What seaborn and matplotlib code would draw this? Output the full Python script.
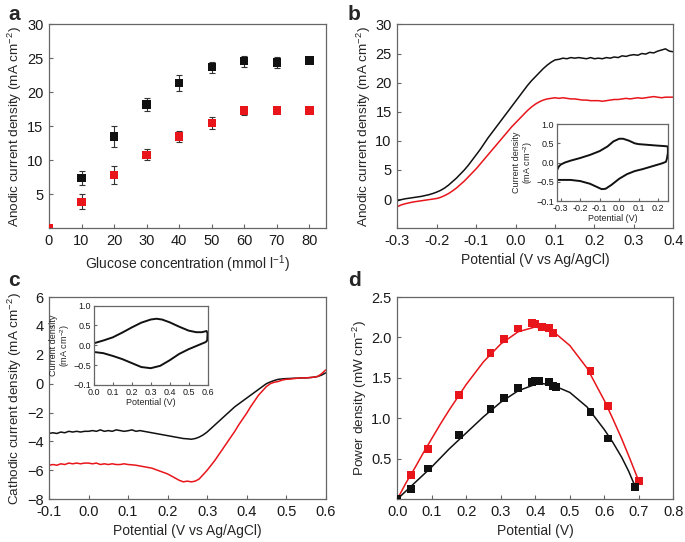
import numpy as np
import pandas as pd
import matplotlib
matplotlib.use('Agg')
import matplotlib.pyplot as plt
from matplotlib.ticker import FixedLocator, FixedFormatter, FormatStrFormatter
import seaborn as sns

# ---- panel a: anodic current vs glucose ----
glucose = [0, 10, 20, 30, 40, 50, 60, 70, 80]
a_black = [0, 7.4, 13.5, 18.2, 21.4, 23.7, 24.6, 24.4, 24.7]
a_black_err = [0, 1.0, 1.5, 1.0, 1.2, 0.8, 0.8, 0.8, 0.3]
a_red = [0, 3.9, 7.8, 10.8, 13.5, 15.5, 17.3, 17.3, 17.3]
a_red_err = [0, 1.1, 1.3, 0.8, 0.8, 0.9, 0.6, 0.4, 0.4]

# ---- panel b: anodic LSV ----
b_pot = [round(-0.30 + 0.01 * i, 2) for i in range(71)]
b_black = [-0.3, -0.1, 0.05, 0.15, 0.25, 0.35, 0.45, 0.6, 0.75, 0.95,
           1.2, 1.5, 1.9, 2.4, 3.0, 3.6, 4.3, 5.0, 5.8, 6.7,
           7.6, 8.5, 9.5, 10.5, 11.4, 12.3, 13.2, 14.1, 15.0, 15.9,
           16.8, 17.7, 18.6, 19.5, 20.3, 21.0, 21.7, 22.4, 23.0, 23.5,
           23.9, 24.0, 24.2, 24.1, 24.3, 24.2, 24.3, 24.2, 24.1, 24.3,
           24.1, 24.2, 24.1, 24.3, 24.2, 24.4, 24.3, 24.6, 24.5, 24.7,
           24.8, 24.7, 25.0, 24.9, 25.2, 25.1, 25.4, 25.6, 25.8, 25.4, 25.3]
b_red = [-1.3, -1.0, -0.8, -0.65, -0.5, -0.4, -0.3, -0.2, -0.1, 0.0,
         0.1, 0.3, 0.6, 0.95, 1.4, 1.9, 2.5, 3.1, 3.8, 4.5,
         5.2, 6.0, 6.8, 7.6, 8.4, 9.2, 10.0, 10.8, 11.6, 12.4,
         13.1, 13.8, 14.5, 15.2, 15.8, 16.3, 16.7, 17.0, 17.2, 17.3,
         17.4, 17.3, 17.4, 17.3, 17.2, 17.2, 17.1, 17.0, 17.0, 16.9,
         16.9, 16.9, 16.8, 16.9, 17.0, 17.1, 17.1, 17.2, 17.3, 17.2,
         17.3, 17.4, 17.3, 17.4, 17.5, 17.6, 17.5, 17.4, 17.5, 17.5, 17.5]

# inset b: cyclic voltammogram
cv_b_x = [-0.32, -0.31, -0.30, -0.28, -0.25, -0.20, -0.15, -0.10, -0.06, -0.03,
          0.00, 0.02, 0.05, 0.08, 0.10, 0.15, 0.20, 0.23, 0.25,
          0.25, 0.245, 0.24, 0.22, 0.18, 0.12, 0.08, 0.04, 0.00, -0.04,
          -0.07, -0.09, -0.12, -0.15, -0.20, -0.25, -0.30, -0.32]
cv_b_y = [-0.2, -0.1, -0.05, 0.0, 0.05, 0.12, 0.2, 0.3, 0.42, 0.55,
          0.62, 0.62, 0.57, 0.5, 0.48, 0.46, 0.44, 0.43, 0.42,
          0.25, 0.1, 0.02, -0.02, -0.08, -0.17, -0.22, -0.3, -0.42, -0.58,
          -0.68, -0.69, -0.62, -0.55, -0.48, -0.45, -0.45, -0.45]

# ---- panel c: cathodic LSV ----
c_pot = [round(-0.10 + 0.01 * i, 2) for i in range(71)]
c_black = [-3.45, -3.4, -3.45, -3.35, -3.4, -3.3, -3.35, -3.3, -3.35, -3.3,
           -3.3, -3.25, -3.3, -3.2, -3.3, -3.25, -3.3, -3.2, -3.25, -3.3,
           -3.26, -3.2, -3.3, -3.25, -3.3, -3.35, -3.4, -3.45, -3.5, -3.55,
           -3.6, -3.65, -3.7, -3.75, -3.8, -3.82, -3.85, -3.8, -3.7, -3.55,
           -3.35, -3.1, -2.85, -2.6, -2.35, -2.1, -1.85, -1.6, -1.4, -1.2,
           -1.0, -0.8, -0.6, -0.4, -0.2, 0.0, 0.12, 0.22, 0.3, 0.33,
           0.35, 0.36, 0.38, 0.38, 0.4, 0.4, 0.42, 0.45, 0.5, 0.6, 0.75]
c_red = [-5.65, -5.6, -5.65, -5.55, -5.6, -5.5, -5.55, -5.5, -5.55, -5.5,
         -5.5, -5.55, -5.5, -5.6, -5.55, -5.6, -5.55, -5.6, -5.6, -5.55,
         -5.6, -5.62, -5.65, -5.7, -5.75, -5.8, -5.85, -5.95, -6.05, -6.15,
         -6.25, -6.4, -6.55, -6.7, -6.8, -6.75, -6.8, -6.75, -6.6, -6.3,
         -6.0, -5.65, -5.3, -4.9, -4.5, -4.1, -3.7, -3.3, -2.85, -2.45,
         -2.05, -1.6, -1.2, -0.8, -0.5, -0.2, 0.0, 0.1, 0.15, 0.25,
         0.3, 0.32, 0.35, 0.38, 0.4, 0.4, 0.42, 0.45, 0.5, 0.7, 0.95]

# inset c: cyclic voltammogram
cv_c_x = [0.0, 0.05, 0.10, 0.15, 0.20, 0.25, 0.30, 0.33, 0.36, 0.40,
          0.45, 0.50, 0.54, 0.57, 0.595, 0.60, 0.598, 0.59, 0.55, 0.50,
          0.45, 0.40, 0.35, 0.30, 0.25, 0.20, 0.15, 0.10, 0.05, 0.0]
cv_c_y = [0.05, 0.12, 0.2, 0.32, 0.45, 0.57, 0.65, 0.67, 0.65, 0.58,
          0.47, 0.37, 0.33, 0.33, 0.36, 0.3, 0.12, 0.08, 0.0, -0.1,
          -0.22, -0.38, -0.52, -0.58, -0.55, -0.45, -0.35, -0.27, -0.2, -0.17]

# ---- panel d: power density ----
d_red_x = [0.0, 0.04, 0.09, 0.18, 0.27, 0.31, 0.35, 0.39, 0.40, 0.42, 0.44, 0.45, 0.56, 0.61, 0.70]
d_red_y = [0.0, 0.30, 0.62, 1.29, 1.81, 1.98, 2.11, 2.18, 2.17, 2.13, 2.12, 2.05, 1.59, 1.15, 0.23]
d_black_x = [0.0, 0.04, 0.09, 0.18, 0.27, 0.31, 0.35, 0.39, 0.40, 0.41, 0.44, 0.45, 0.46, 0.56, 0.61, 0.69]
d_black_y = [0.0, 0.13, 0.38, 0.79, 1.11, 1.25, 1.38, 1.45, 1.46, 1.46, 1.45, 1.40, 1.39, 1.08, 0.75, 0.15]
# fitted curves
fit_red_x = [0.0, 0.025, 0.05, 0.075, 0.1, 0.125, 0.15, 0.2, 0.25, 0.3, 0.35, 0.4, 0.45, 0.5,
             0.55, 0.6, 0.625, 0.65, 0.675, 0.7]
fit_red_y = [0.0, 0.2, 0.38, 0.57, 0.75, 0.93, 1.1, 1.42, 1.7, 1.92, 2.07, 2.13, 2.08, 1.9,
             1.62, 1.22, 0.99, 0.75, 0.49, 0.22]
fit_black_x = [0.0, 0.05, 0.1, 0.15, 0.2, 0.25, 0.3, 0.35, 0.4, 0.42, 0.45, 0.5, 0.55, 0.6,
               0.625, 0.65, 0.67, 0.69]
fit_black_y = [0.0, 0.2, 0.4, 0.62, 0.82, 1.02, 1.2, 1.34, 1.42, 1.43, 1.41, 1.32, 1.14, 0.86,
               0.7, 0.52, 0.35, 0.15]

RED = '#e8151b'
BLK = '#111111'

sns.set_style('ticks')
plt.rcParams['font.family'] = ['Liberation Sans', 'DejaVu Sans']
plt.rcParams['mathtext.fontset'] = 'custom'
plt.rcParams['mathtext.rm'] = 'Liberation Sans'
plt.rcParams['mathtext.it'] = 'Liberation Sans:italic'
plt.rcParams['axes.edgecolor'] = '#666666'
plt.rcParams['axes.linewidth'] = 0.9
plt.rcParams['xtick.color'] = '#666666'
plt.rcParams['ytick.color'] = '#666666'
plt.rcParams['xtick.labelcolor'] = '#1a1a1a'
plt.rcParams['ytick.labelcolor'] = '#1a1a1a'
plt.rcParams['xtick.direction'] = 'in'
plt.rcParams['ytick.direction'] = 'in'
plt.rcParams['xtick.major.size'] = 3
plt.rcParams['ytick.major.size'] = 3

fig = plt.figure(figsize=(6.85, 5.42), dpi=100)
ax_a = fig.add_axes([0.0715, 0.579, 0.404, 0.376])
ax_b = fig.add_axes([0.580, 0.579, 0.403, 0.376])
ax_c = fig.add_axes([0.0715, 0.079, 0.404, 0.373])
ax_d = fig.add_axes([0.580, 0.079, 0.403, 0.373])

FS = 10.5
XL = 10
YL = 9.7
for ax in (ax_a, ax_b, ax_c, ax_d):
    ax.tick_params(labelsize=FS, pad=4)

# a
ax_a.errorbar(glucose, a_black, yerr=a_black_err, fmt='none', ecolor='#333333',
              elinewidth=0.8, capsize=2.5, capthick=0.8, zorder=2)
ax_a.errorbar(glucose, a_red, yerr=a_red_err, fmt='none', ecolor='#333333',
              elinewidth=0.8, capsize=2.5, capthick=0.8, zorder=2)
sns.scatterplot(x=glucose, y=a_black, marker='s', s=36, color=BLK, edgecolor='none', ax=ax_a, zorder=3)
sns.scatterplot(x=glucose, y=a_red, marker='s', s=36, color=RED, edgecolor='none', ax=ax_a, zorder=4)
ax_a.set_xlim(0, 85)
ax_a.set_ylim(0, 30)
ax_a.set_xticks([0, 10, 20, 30, 40, 50, 60, 70, 80])
ax_a.set_yticks([5, 10, 15, 20, 25, 30])
ax_a.set_xlabel('Glucose concentration (mmol l$^{-1}$)', fontsize=XL)
ax_a.set_ylabel('Anodic current density (mA cm$^{-2}$)', fontsize=YL, labelpad=2)

# b
sns.lineplot(x=b_pot, y=b_black, estimator=None, color=BLK, lw=1.1, ax=ax_b)
sns.lineplot(x=b_pot, y=b_red, estimator=None, color=RED, lw=1.1, ax=ax_b)
ax_b.set_xlim(-0.3, 0.4)
ax_b.set_ylim(-5, 30)
ax_b.set_xticks([-0.3, -0.2, -0.1, 0.0, 0.1, 0.2, 0.3, 0.4])
ax_b.set_yticks([0, 5, 10, 15, 20, 25, 30])
ax_b.set_xlabel('Potential (V vs Ag/AgCl)', fontsize=XL)
ax_b.set_ylabel('Anodic current density (mA cm$^{-2}$)', fontsize=YL, labelpad=2)

# c
sns.lineplot(x=c_pot, y=c_black, estimator=None, color=BLK, lw=1.1, ax=ax_c)
sns.lineplot(x=c_pot, y=c_red, estimator=None, color=RED, lw=1.1, ax=ax_c)
ax_c.set_xlim(-0.1, 0.6)
ax_c.set_ylim(-8, 6)
ax_c.set_xticks([-0.1, 0.0, 0.1, 0.2, 0.3, 0.4, 0.5, 0.6])
ax_c.set_yticks([-8, -6, -4, -2, 0, 2, 4, 6])
ax_c.set_xlabel('Potential (V vs Ag/AgCl)', fontsize=XL)
ax_c.set_ylabel('Cathodic current density (mA cm$^{-2}$)', fontsize=YL, labelpad=2)

# d
sns.lineplot(x=fit_red_x, y=fit_red_y, estimator=None, color=RED, lw=1.1, ax=ax_d)
sns.lineplot(x=fit_black_x, y=fit_black_y, estimator=None, color=BLK, lw=1.1, ax=ax_d)
sns.scatterplot(x=d_red_x, y=d_red_y, marker='s', s=32, color=RED, edgecolor='none', ax=ax_d, zorder=3)
sns.scatterplot(x=d_black_x, y=d_black_y, marker='s', s=32, color=BLK, edgecolor='none', ax=ax_d, zorder=3)
ax_d.set_xlim(0, 0.8)
ax_d.set_ylim(0, 2.5)
ax_d.set_xticks([0.0, 0.1, 0.2, 0.3, 0.4, 0.5, 0.6, 0.7, 0.8])
ax_d.set_yticks([0.5, 1.0, 1.5, 2.0, 2.5])
ax_d.set_xlabel('Potential (V)', fontsize=XL)
ax_d.set_ylabel('Power density (mW cm$^{-2}$)', fontsize=YL, labelpad=2)

for ax in (ax_b, ax_c, ax_d):
    ax.xaxis.set_major_formatter(FormatStrFormatter('%.1f'))
ax_d.yaxis.set_major_formatter(FormatStrFormatter('%.1f'))

# insets
IFS = 6.5
ins_labels = ['\u22120.1', '\u22120.5', '0.0', '0.5', '1.0']
ins_b = fig.add_axes([0.813, 0.629, 0.162, 0.142])
sns.lineplot(x=cv_b_x, y=cv_b_y, sort=False, estimator=None, color=BLK, lw=1.4, ax=ins_b)
ins_b.set_xlim(-0.32, 0.25)
ins_b.set_ylim(-1, 1)
ins_b.set_xticks([-0.3, -0.2, -0.1, 0.0, 0.1, 0.2])

ins_c = fig.add_axes([0.137, 0.290, 0.166, 0.146])
sns.lineplot(x=cv_c_x, y=cv_c_y, sort=False, estimator=None, color=BLK, lw=1.4, ax=ins_c)
ins_c.set_xlim(0, 0.6)
ins_c.set_ylim(-1, 1)
ins_c.set_xticks([0.0, 0.1, 0.2, 0.3, 0.4, 0.5, 0.6])

for ins in (ins_b, ins_c):
    ins.xaxis.set_major_formatter(FormatStrFormatter('%.1f'))
    ins.yaxis.set_major_locator(FixedLocator([-1, -0.5, 0, 0.5, 1]))
    ins.yaxis.set_major_formatter(FixedFormatter(ins_labels))
    ins.tick_params(labelsize=IFS, length=2, pad=2)
    ins.set_xlabel('Potential (V)', fontsize=IFS, labelpad=1)
    ins.set_ylabel('Current density\n(mA cm$^{-2}$)', fontsize=IFS, labelpad=1, linespacing=1.0)

# panel letters
for lbl, x, y in [('a', 0.012, 0.99), ('b', 0.508, 0.99), ('c', 0.012, 0.50), ('d', 0.508, 0.50)]:
    fig.text(x, y, lbl, fontsize=15, fontweight='bold', va='top', ha='left')

fig.savefig('out.png', dpi=100)
